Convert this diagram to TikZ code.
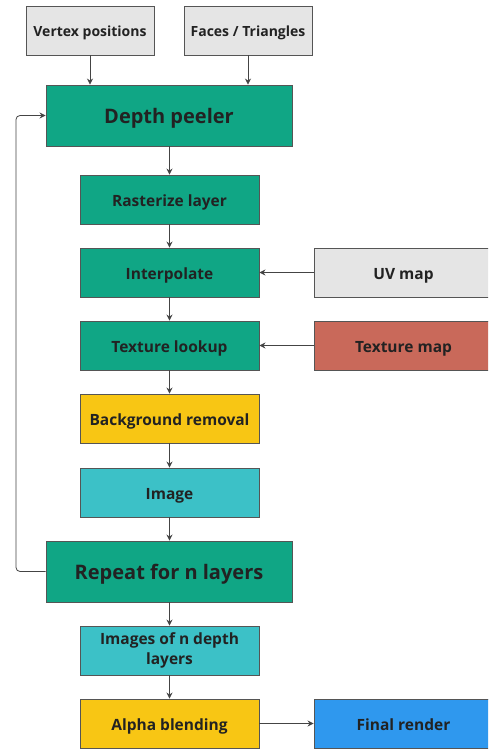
\documentclass[tikz,border=0pt]{standalone}
\usepackage{fontspec}
\setmainfont{Open Sans}
\usetikzlibrary{arrows.meta}
\definecolor{cgreen}{HTML}{10A685}
\definecolor{cgray}{HTML}{E5E5E5}
\definecolor{cred}{HTML}{C9695A}
\definecolor{cyellow}{HTML}{F8C614}
\definecolor{ccyan}{HTML}{3CC1C7}
\definecolor{cblue}{HTML}{2F98EE}
\definecolor{cborder}{HTML}{555555}
\definecolor{ctext}{HTML}{222222}
\definecolor{cline}{HTML}{444444}
\tikzset{
  box/.style={draw=cborder, line width=0.9pt, minimum width=179pt, minimum height=49pt, inner sep=2pt, text=ctext, font=\bfseries\fontsize{15.5}{20}\selectfont},
  oneline/.style={text height=16pt, text depth=2pt},
  smallbox/.style={box, minimum width=128pt, text height=14.5pt, text depth=2.3pt, font=\bfseries\fontsize{14}{17}\selectfont},
  bigbox/.style={box, minimum width=246pt, minimum height=61pt, text height=19pt, text depth=2.6pt, font=\bfseries\fontsize{20}{24}\selectfont},
  conn/.style={draw=cline, line width=0.8pt, -{Stealth[length=6pt,width=6pt]}}
}
\begin{document}
\begin{tikzpicture}[x=1pt,y=-1pt]
\useasboundingbox (0,0) rectangle (488,749);
\clip (0,0) rectangle (488,749);
\node[smallbox, fill=cgray] (vert) at (90,30.5) {Vertex positions};
\node[smallbox, fill=cgray] (faces) at (248,30.5) {Faces / Triangles};
\node[bigbox, fill=cgreen] (depth) at (169,115.5) {Depth peeler};
\node[box, oneline, fill=cgreen] (rast) at (169.5,199.5) {Rasterize layer};
\node[box, oneline, fill=cgreen] (interp) at (169.5,272.5) {Interpolate};
\node[box, oneline, fill=cgreen] (texl) at (169.5,345.5) {Texture lookup};
\node[box, oneline, fill=cgray] (uv) at (403.5,272.5) {UV map};
\node[box, oneline, fill=cred] (texm) at (403.5,345.5) {Texture map};
\node[box, oneline, fill=cyellow] (bg) at (169.5,418.5) {Background removal};
\node[box, oneline, fill=ccyan] (img) at (169.5,492.5) {Image};
\node[bigbox, fill=cgreen] (rep) at (169,571.5) {Repeat for n layers};
\node[box, align=center, fill=ccyan] (imgs) at (169.5,650.5) {\raisebox{-2pt}{Images of n depth}\\\raisebox{-2pt}{layers}};
\node[box, oneline, fill=cyellow] (alpha) at (169.5,723.5) {Alpha blending};
\node[box, oneline, fill=cblue] (final) at (403.5,723.5) {Final render};
\coordinate (lb) at (16,571.5);
\coordinate (lt) at (16,115.5);
\draw[conn] (vert.south) -- (vert.south |- depth.north);
\draw[conn] (faces.south) -- (faces.south |- depth.north);
\draw[conn] (depth.south -| rast.north) -- (rast.north);
\draw[conn] (rast) -- (interp);
\draw[conn] (interp) -- (texl);
\draw[conn] (texl) -- (bg);
\draw[conn] (bg) -- (img);
\draw[conn] (img.south) -- (img.south |- rep.north);
\draw[conn] (rep.south -| imgs.north) -- (imgs.north);
\draw[conn] (imgs) -- (alpha);
\draw[conn] (uv) -- (interp);
\draw[conn] (texm) -- (texl);
\draw[conn] (alpha) -- (final);
\draw[conn, rounded corners=4pt] (rep.west) -- (lb) -- (lt) -- (depth.west);
\end{tikzpicture}
\end{document}
